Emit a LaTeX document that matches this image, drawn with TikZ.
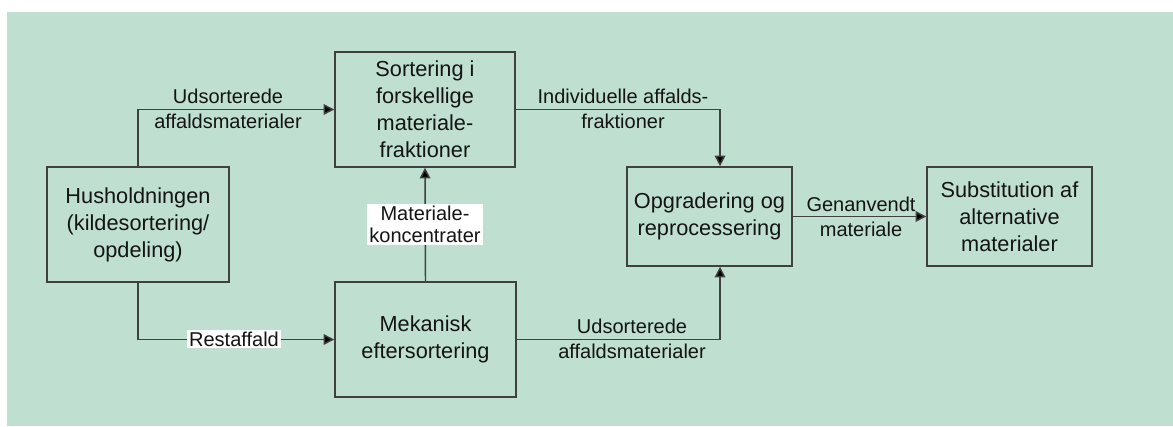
\documentclass[tikz,border=0pt]{standalone}
\usepackage{fontspec}
\setmainfont{Liberation Sans}
\usetikzlibrary{arrows.meta,calc}
\definecolor{bg}{HTML}{BFE0D1}
\definecolor{edge}{HTML}{404040}
\definecolor{txt}{HTML}{141414}
\begin{document}
\begin{tikzpicture}[x=0.75pt,y=-0.75pt,
 box/.style={draw=edge,line width=1.1pt,inner sep=0pt,align=center,text=txt,font=\fontsize{16.3}{20.2}\selectfont},
 lbl/.style={inner sep=1pt,align=center,text=txt,font=\fontsize{15}{18.8}\selectfont},
 wlbl/.style={lbl,fill=white,inner sep=1.5pt},
 arr/.style={draw=edge,line width=1.1pt,-{Triangle[length=8pt,width=8pt,fill=black]}}]
\useasboundingbox (0,0) rectangle (1173,426);
\fill[bg] (7,12) rectangle (1173,426);
% boxes
\node[box,minimum width=136.5pt,minimum height=86.25pt] (hus) at (138,224.5) {Husholdningen\\(kildesortering/\\opdeling)};
\node[box,minimum width=135pt,minimum height=86.25pt] (sort) at (425,109.5) {Sortering i\\forskellige\\materiale-\\fraktioner};
\node[box,minimum width=135.75pt,minimum height=86.25pt] (mek) at (425.5,339.5) {Mekanisk\\eftersortering};
\node[box,minimum width=123.75pt,minimum height=74.25pt] (opg) at (709.5,216.5) {Opgradering og\\reprocessering};
\node[box,minimum width=123.75pt,minimum height=74.25pt] (sub) at (1009.5,216.5) {Substitution af\\alternative\\materialer};
% connectors
\draw[arr] (hus.north) |- (sort.west);
\draw[arr] (hus.south) |- (mek.west);
\draw[arr] (mek.north) -- (sort.south);
\draw[arr] (sort.east) -| ([xshift=7.9pt]opg.north);
\draw[arr] (mek.east) -| ([xshift=7.9pt]opg.south);
\draw[arr] (opg.east) -- (sub.west);
% labels
\node[lbl] (l1) at (228,109) {Udsorterede\\affaldsmaterialer};
\node[wlbl] (l2) at (234,339) {Restaffald};
\node[wlbl,font=\fontsize{15}{16.8}\selectfont] (l3) at (425,224.5) {Materiale-\\koncentrater};
\node[lbl] (l4) at (623,108.5) {Individuelle affalds-\\fraktioner};
\node[lbl] (l5) at (632,339) {Udsorterede\\affaldsmaterialer};
\node[lbl] (l6) at (861,216.5) {Genanvendt\\materiale};
\end{tikzpicture}
\end{document}
